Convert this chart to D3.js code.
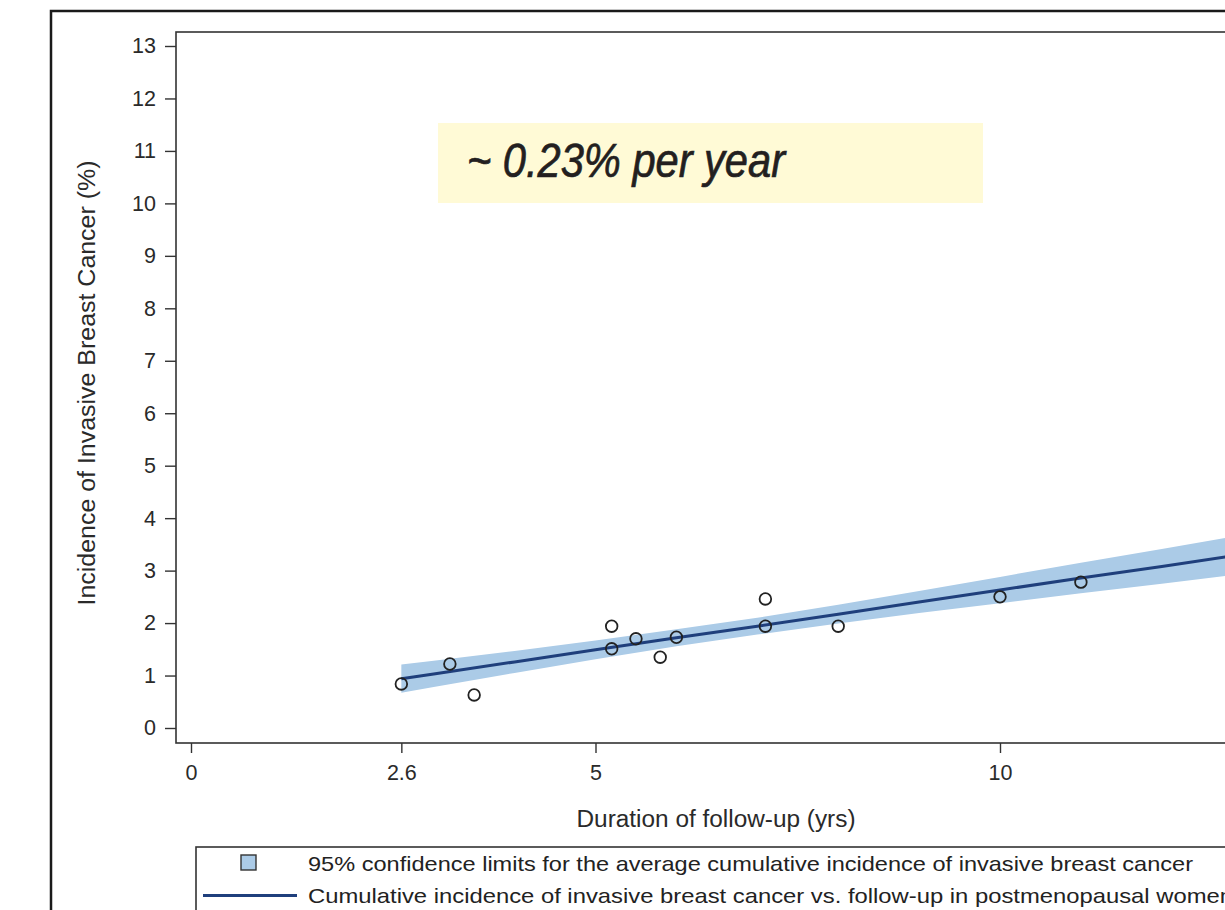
<!DOCTYPE html>
<html><head><meta charset="utf-8">
<script src="https://cdn.jsdelivr.net/npm/d3@7"></script>
<style>html,body{margin:0;padding:0;background:#fff;overflow:hidden}</style>
</head><body>
<script>
// ---- data ----
const pointX = [2.6, 3.2, 3.5, 5.2, 5.2, 5.5, 5.8, 6.0, 7.1, 7.1, 8.0, 10.0, 11.0];
const pointY = [0.84, 1.22, 0.63, 1.94, 1.51, 1.70, 1.35, 1.73, 2.46, 1.94, 1.94, 2.50, 2.78];
const fitX = [2.6, 3, 4, 5, 6, 7, 8, 9, 10, 11, 12, 13, 14];
const fitY = [0.94, 1.03, 1.26, 1.49, 1.72, 1.94, 2.17, 2.40, 2.63, 2.86, 3.08, 3.31, 3.54];
const bandLower = [0.67, 0.78, 1.05, 1.31, 1.56, 1.78, 1.99, 2.19, 2.38, 2.57, 2.75, 2.94, 3.13];
const bandUpper = [1.21, 1.28, 1.47, 1.67, 1.88, 2.10, 2.35, 2.61, 2.88, 3.15, 3.41, 3.68, 3.95];
const xTicks = [0, 2.6, 5, 10];
const xTickLabels = ["0", "2.6", "5", "10"];
const yTicks = [0,1,2,3,4,5,6,7,8,9,10,11,12,13];
const legendLabels = [
  "95% confidence limits for the average cumulative incidence of invasive breast cancer",
  "Cumulative incidence of invasive breast cancer vs. follow-up in postmenopausal women"
];
const annotation = "~ 0.23% per year";
const xTitle = "Duration of follow-up (yrs)";
const yTitle = "Incidence of Invasive Breast Cancer (%)";

// ---- layout ----
const W = 1225, H = 910;
const svg = d3.select("body").append("svg").attr("width", W).attr("height", H)
  .style("font-family", "'Liberation Sans', Arial, sans-serif");

const bandColor = "#abcbe7", lineColor = "#1f3f7c", ink = "#2a2a2a";

const x = d3.scaleLinear().domain([0, 10]).range([191, 1000]);
const y = d3.scaleLinear().domain([0, 13]).range([728, 46]);

// outer frame
svg.append("rect").attr("x", 51).attr("y", 11).attr("width", 1400).attr("height", 1100)
  .attr("fill", "none").attr("stroke", "#1a1a1a").attr("stroke-width", 2.5);

// annotation box
svg.append("rect").attr("x", 438).attr("y", 123).attr("width", 545).attr("height", 80)
  .attr("fill", "#fffad6");
svg.append("text").attr("x", 467).attr("y", 177).text(annotation)
  .attr("font-size", 48).attr("font-style", "italic").attr("fill", "#231f20")
  .attr("stroke", "#231f20").attr("stroke-width", 0.7)
  .attr("textLength", 318).attr("lengthAdjust", "spacingAndGlyphs");

// plot clip
svg.append("clipPath").attr("id", "clip").append("rect")
  .attr("x", 177).attr("y", 33).attr("width", 1300).attr("height", 709);
const plot = svg.append("g").attr("clip-path", "url(#clip)");

const bandData = fitX.map((v, i) => ({x: v, lo: bandLower[i], hi: bandUpper[i]}));
plot.append("path").datum(bandData)
  .attr("d", d3.area().x(d => x(d.x)).y0(d => y(d.lo)).y1(d => y(d.hi)))
  .attr("fill", bandColor);

const fitData = fitX.map((v, i) => ({x: v, y: fitY[i]}));
plot.append("path").datum(fitData)
  .attr("d", d3.line().x(d => x(d.x)).y(d => y(d.y)))
  .attr("fill", "none").attr("stroke", lineColor).attr("stroke-width", 3);

plot.selectAll("circle.pt").data(pointX.map((v, i) => ({x: v, y: pointY[i]})))
  .enter().append("circle").attr("class", "pt")
  .attr("cx", d => x(d.x)).attr("cy", d => y(d.y)).attr("r", 5.8)
  .attr("fill", "none").attr("stroke", "#222").attr("stroke-width", 1.8);

// plot frame
svg.append("rect").attr("x", 176).attr("y", 32).attr("width", 1400).attr("height", 711)
  .attr("fill", "none").attr("stroke", "#333").attr("stroke-width", 1.6);

// y axis
const yAxis = svg.append("g").attr("transform", "translate(176,0)")
  .call(d3.axisLeft(y).tickValues(yTicks).tickSize(11).tickPadding(9).tickFormat(d3.format("d")));
yAxis.select(".domain").remove();
yAxis.selectAll("line").attr("stroke", "#333").attr("stroke-width", 1.4);
yAxis.selectAll("text").attr("font-size", 21.5).attr("fill", ink)
  .attr("font-family", "'Liberation Sans', Arial, sans-serif");

// x axis
const xAxis = svg.append("g").attr("transform", "translate(0,743)")
  .call(d3.axisBottom(x).tickValues(xTicks).tickSize(10).tickPadding(12)
    .tickFormat((d, i) => xTickLabels[i]));
xAxis.select(".domain").remove();
xAxis.selectAll("line").attr("stroke", "#333").attr("stroke-width", 1.4);
xAxis.selectAll("text").attr("font-size", 21.5).attr("fill", ink)
  .attr("font-family", "'Liberation Sans', Arial, sans-serif");

// axis titles
svg.append("text").attr("x", 716).attr("y", 827).attr("text-anchor", "middle")
  .text(xTitle).attr("font-size", 23).attr("fill", ink)
  .attr("textLength", 279).attr("lengthAdjust", "spacingAndGlyphs");
svg.append("text").attr("transform", "translate(95,383) rotate(-90)")
  .attr("text-anchor", "middle").text(yTitle).attr("font-size", 23).attr("fill", ink)
  .attr("textLength", 445).attr("lengthAdjust", "spacingAndGlyphs");

// legend
svg.append("rect").attr("x", 196).attr("y", 847).attr("width", 1200).attr("height", 200)
  .attr("fill", "#fff").attr("stroke", "#333").attr("stroke-width", 1.6);
svg.append("rect").attr("x", 241).attr("y", 855).attr("width", 15).attr("height", 15)
  .attr("fill", bandColor).attr("stroke", "#333").attr("stroke-width", 1.4);
svg.append("line").attr("x1", 203).attr("x2", 297).attr("y1", 895.5).attr("y2", 895.5)
  .attr("stroke", lineColor).attr("stroke-width", 3);
const legLens = [885, 925];
const legY = [871, 903];
legendLabels.forEach((t, i) => {
  svg.append("text").attr("x", 308).attr("y", legY[i]).text(t)
    .attr("font-size", 21).attr("fill", "#222")
    .attr("textLength", legLens[i]).attr("lengthAdjust", "spacingAndGlyphs");
});
</script>
</body></html>
